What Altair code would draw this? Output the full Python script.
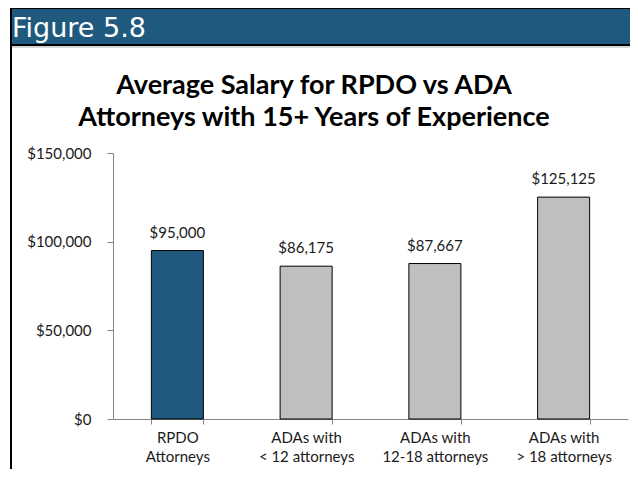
import altair as alt
import pandas as pd

categories = ["RPDO\nAttorneys", "ADAs with\n< 12 attorneys", "ADAs with\n12-18 attorneys", "ADAs with\n> 18 attorneys"]
salaries = [95000, 86175, 87667, 125125]
groups = ["RPDO", "ADA", "ADA", "ADA"]
y_ticks = [0, 50000, 100000, 150000]
figure_label = ["Figure 5.8"]
title_lines = ["Average Salary for RPDO vs ADA", "Attorneys with 15+ Years of Experience"]

BLUE = "#1F5A7E"
GRAY = "#BFBFBF"
AXIS = "#868686"
FONT = "Lato"

df = pd.DataFrame({"category": categories, "salary": salaries, "group": groups})
hdr = pd.DataFrame({"label": figure_label})
ttl = pd.DataFrame({"title": ["\n".join(title_lines)]})

x_enc = alt.X(
    "category:N", sort=categories, title=None,
    scale=alt.Scale(paddingInner=0.596, paddingOuter=0.298),
    axis=alt.Axis(labelAngle=0, tickBand="extent",
                  labelExpr="datum.value ? split(datum.value, '\\n') : ''",
                  tickSize=5, labelPadding=6, labelLineHeight=19.5, labelFont=FONT,
                  labelFontSize=15, labelColor="#1a1a1a", domainColor=AXIS, tickColor=AXIS),
)
y_enc = alt.Y(
    "salary:Q", title=None,
    scale=alt.Scale(domain=[0, 150000], nice=False),
    axis=alt.Axis(values=y_ticks, format="$,.0f", grid=False, tickSize=6, labelPadding=16,
                  labelFont=FONT, labelFontSize=15, labelColor="#1a1a1a",
                  domainColor=AXIS, tickColor=AXIS),
)

base = alt.Chart(df)
bars = base.mark_bar(stroke="black", strokeWidth=1).encode(
    x=x_enc, y=y_enc,
    color=alt.Color("group:N", scale=alt.Scale(domain=["RPDO", "ADA"], range=[BLUE, GRAY]), legend=None),
)
labels = base.mark_text(dy=-10, baseline="bottom", font=FONT, fontSize=15, color="#1a1a1a").encode(
    x=alt.X("category:N", sort=categories), y="salary:Q",
    text=alt.Text("salary:Q", format="$,.0f"),
)

header = alt.Chart(hdr).mark_rect(fill=BLUE).encode(
    x=alt.value(-103), x2=alt.value(560), y=alt.value(-145), y2=alt.value(-108)
)
header_top = alt.Chart(hdr).mark_rule(color="black", strokeWidth=2).encode(
    x=alt.value(-103), x2=alt.value(560), y=alt.value(-145)
)
header_bottom = alt.Chart(hdr).mark_rule(color="black", strokeWidth=2).encode(
    x=alt.value(-103), x2=alt.value(560), y=alt.value(-108)
)
header_line = alt.Chart(hdr).mark_rule(color="#c8c8c8", strokeWidth=1.5).encode(
    x=alt.value(-103), x2=alt.value(560), y=alt.value(-106)
)
border = alt.Chart(hdr).mark_rule(color="black", strokeWidth=2).encode(
    x=alt.value(-102), y=alt.value(-145), y2=alt.value(340)
)
header_text = alt.Chart(hdr).mark_text(align="left", baseline="alphabetic", font="DejaVu Sans",
                                        fontSize=27, color="white").encode(
    x=alt.value(-101), y=alt.value(-116), text="label:N"
)
title = alt.Chart(ttl).mark_text(align="center", baseline="alphabetic", font=FONT, fontSize=27,
                                 fontWeight="bold", color="black", lineBreak="\n", lineHeight=32).encode(
    x=alt.value(201), y=alt.value(-59), text="title:N"
)

chart = alt.layer(header, header_top, header_bottom, header_line, border, header_text, title,
                  bars, labels).properties(
    width=515, height=266,
    padding={"left": 105, "top": 145, "right": 2, "bottom": 50},
    autosize=alt.AutoSizeParams(type="none"),
).configure_view(stroke=None)

chart.save("out.html", embed_options={"renderer": "svg", "actions": False})
